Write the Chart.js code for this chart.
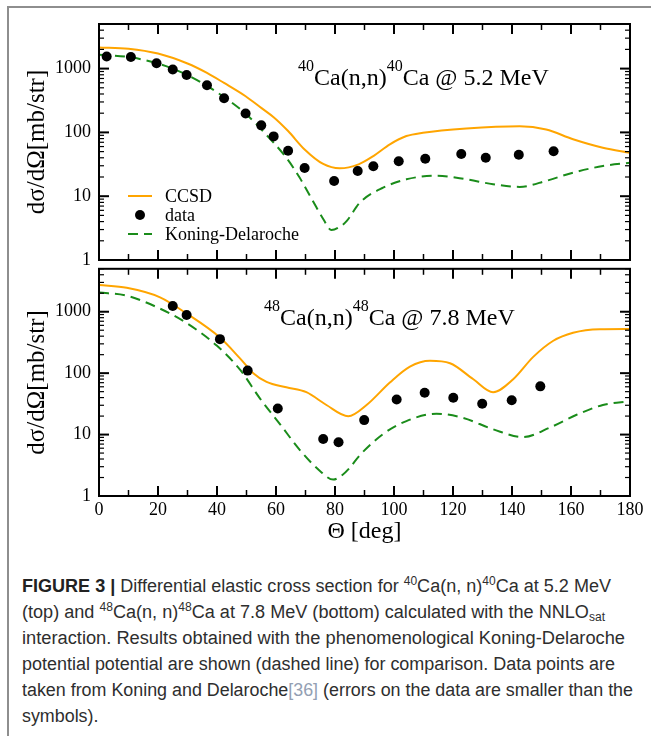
<!DOCTYPE html>
<html>
<head>
<meta charset="utf-8">
<script src="https://cdn.jsdelivr.net/npm/chart.js@4/dist/chart.umd.min.js"></script>
<style>
  html, body { margin:0; padding:0; background:#fff; }
  #wrap { position:relative; width:651px; height:736px; overflow:hidden; background:#fff; }
  #box { position:absolute; left:7px; top:6px; width:700px; height:760px; border-left:2px solid #8e8e8e; border-top:2px solid #8e8e8e; }
  canvas { position:absolute; left:0; }
  #cTop { top:0; }
  #cBot { top:250px; }
  .ann { position:absolute; font-family:"Liberation Serif", serif; font-size:24px; line-height:24px; white-space:nowrap; color:#000; }
  .ann sup { font-size:16px; vertical-align:baseline; position:relative; top:-14px; line-height:0; }
  #cap { position:absolute; left:22px; top:573px; font-family:"Liberation Sans", Arial, sans-serif; font-size:18px; color:#2e2e2e; }
  #cap .l { width:max-content; height:26px; line-height:26px; white-space:nowrap; transform-origin:0 50%; }
  #cap sup { font-size:12px; vertical-align:baseline; position:relative; top:-7px; line-height:0; }
  #cap sub { font-size:12px; vertical-align:baseline; position:relative; top:3px; line-height:0; }
  #cap b { font-weight:bold; color:#222; }
  #cap .ref { color:#93a0b3; }
</style>
</head>
<body>
<div id="wrap">
  <div id="box"></div>
  <canvas id="cBot" width="651" height="300"></canvas>
  <canvas id="cTop" width="651" height="285"></canvas>
  <div class="ann" style="left:298px;top:65px;"><sup>40</sup>Ca(n,n)<sup>40</sup>Ca @ 5.2 MeV</div>
  <div class="ann" style="left:264px;top:305px;"><sup>48</sup>Ca(n,n)<sup>48</sup>Ca @ 7.8 MeV</div>
  <div id="cap">
    <div class="l"><b>FIGURE 3 |</b> Differential elastic cross section for <sup>40</sup>Ca(n, n)<sup>40</sup>Ca at 5.2 MeV</div>
    <div class="l">(top) and <sup>48</sup>Ca(n, n)<sup>48</sup>Ca at 7.8 MeV (bottom) calculated with the NNLO<sub>sat</sub></div>
    <div class="l">interaction. Results obtained with the phenomenological Koning-Delaroche</div>
    <div class="l">potential potential are shown (dashed line) for comparison. Data points are</div>
    <div class="l">taken from Koning and Delaroche<span class="ref">[36]</span> (errors on the data are smaller than the</div>
    <div class="l">symbols).</div>
  </div>
</div>
<script>
// ---------------- data ----------------
// Top panel: 40Ca(n,n)40Ca @ 5.2 MeV
const data40Angles = [2.6, 10.8, 19.5, 25, 29.7, 36.6, 42.4, 49.7, 55, 59.2, 64.1, 69.7, 79.7, 87.7, 93, 101.6, 110.6, 122.8, 131.1, 142.3, 154.1];
const data40Values = [1550, 1515, 1210, 965, 795, 548, 343, 198, 129, 86.6, 51.6, 27.7, 17.3, 24.9, 29.4, 35.2, 38.7, 45.8, 40.1, 44.7, 50.5];

const ccsd40Angles = [0, 10, 20, 30, 36.6, 42.4, 49.7, 55, 59.2, 64.1, 69.7, 76, 81.6, 88, 93, 98.6, 104.2, 109.8, 124.5, 142.6, 151.6, 160.7, 170.8, 180];
const ccsd40Values = [2150, 2050, 1720, 1200, 855, 595, 369, 242, 173, 105, 54, 32, 27.4, 31.6, 42.6, 65, 87.6, 98.6, 115, 125, 111, 78, 57.5, 48];

const kd40Angles = [0, 10, 20, 30, 42, 50, 56.6, 63.5, 68, 72.5, 76, 78.8, 82, 84, 88.4, 96.3, 104.2, 114.4, 124.5, 133.6, 142.6, 151.6, 160.7, 170.8, 180];
const kd40Values = [1655, 1520, 1200, 790, 369, 191, 93, 40, 19.6, 8.4, 4.4, 2.94, 3.4, 4.1, 7.9, 13.6, 18.4, 21, 18.4, 15.4, 14, 17.4, 23.4, 29.7, 33.5];

// Bottom panel: 48Ca(n,n)48Ca @ 7.8 MeV
const data48Angles = [25, 29.7, 41, 50.4, 60.6, 76, 81.2, 89.9, 100.9, 110.4, 120.1, 129.9, 139.9, 149.6];
const data48Values = [1238, 884, 358, 110, 26.5, 8.5, 7.5, 17.2, 37.2, 47.9, 39.9, 31.8, 36.2, 61];

const ccsd48Angles = [0, 9.4, 20.7, 29.7, 41, 47.8, 52.3, 56.8, 63.5, 70.3, 77.1, 84.5, 90.7, 98.6, 105.4, 112.2, 119, 126.9, 133.6, 140.4, 147.2, 154, 160.7, 169.8, 180];
const ccsd48Values = [2712, 2450, 1714, 935, 380, 174, 100, 72, 58.8, 49, 30.3, 19.9, 30.3, 70.5, 128, 159, 145, 79.5, 49, 79.5, 184, 337, 455, 520, 525];

const kd48Angles = [0, 9.4, 20.7, 29.7, 39.9, 47.8, 54.6, 61.4, 68.1, 74.9, 79.4, 82.5, 85, 88.4, 96.3, 104.2, 114.4, 123.4, 133.6, 143.7, 152.8, 161.9, 170.8, 180];
const kd48Values = [2052, 1823, 1122, 653, 281, 114, 38.5, 14.7, 5.6, 2.56, 1.85, 2.2, 2.88, 4.6, 10.2, 16.6, 21.9, 18.7, 12.2, 9.1, 13, 21, 30.3, 35];

// Axes
const xTickValues = [0, 20, 40, 60, 80, 100, 120, 140, 160, 180];
const xMinorValues = [10, 30, 50, 70, 90, 110, 130, 150, 170];
const yTickValues = [1, 10, 100, 1000];
const yTickLabels = ['1', '10', '100', '1000'];
const yRange = [1, 5000];
const xRange = [0, 180];

const seriesNames = ['CCSD', 'data', 'Koning-Delaroche'];
const yTitle = 'd\u03c3/d\u03a9[mb/str]';
const xTitle = '\u0398 [deg]';

// ---------------- chart construction ----------------
const ORANGE = '#ffa500';
const GREEN = '#1a8c1a';
const zip = (xs, ys) => xs.map((x, i) => ({x: x, y: ys[i]}));

function makeDatasets(ccA, ccV, dA, dV, kA, kV) {
  return [
    { label: seriesNames[0], data: zip(ccA, ccV), borderColor: ORANGE, borderWidth: 2, pointRadius: 0,
      cubicInterpolationMode: 'monotone', fill: false, order: 3 },
    { label: seriesNames[1], data: zip(dA, dV), showLine: false, pointRadius: 5, pointHoverRadius: 5,
      pointBackgroundColor: '#000', pointBorderWidth: 0, borderColor: '#000', backgroundColor: '#000', order: 1 },
    { label: seriesNames[2], data: zip(kA, kV), borderColor: GREEN, borderWidth: 2, borderDash: [10, 6], pointRadius: 0,
      cubicInterpolationMode: 'monotone', fill: false, order: 2 }
  ];
}

const frameTicks = {
  id: 'frameTicks',
  afterDatasetsDraw(chart) {
    const {ctx, chartArea: a, scales: {x, y}} = chart;
    ctx.save();
    ctx.strokeStyle = '#000';
    ctx.lineCap = 'butt';
    const vline = (px, y0, y1, w) => { ctx.lineWidth = w; ctx.beginPath(); ctx.moveTo(px, y0); ctx.lineTo(px, y1); ctx.stroke(); };
    const hline = (py, x0, x1, w) => { ctx.lineWidth = w; ctx.beginPath(); ctx.moveTo(x0, py); ctx.lineTo(x1, py); ctx.stroke(); };
    xTickValues.forEach(v => { const p = x.getPixelForValue(v); vline(p, a.top, a.top + 10, 2); vline(p, a.bottom, a.bottom - 10, 2); });
    xMinorValues.forEach(v => { const p = x.getPixelForValue(v); vline(p, a.top, a.top + 6, 1.5); vline(p, a.bottom, a.bottom - 6, 1.5); });
    yTickValues.forEach(v => { const p = y.getPixelForValue(v); hline(p, a.left, a.left + 10, 2); hline(p, a.right, a.right - 10, 2); });
    yTickValues.forEach(d => {
      for (let m = 2; m <= 9; m++) {
        const v = d * m;
        if (v > yRange[1]) break;
        const p = y.getPixelForValue(v);
        hline(p, a.left, a.left + 5, 1.2); hline(p, a.right, a.right - 5, 1.2);
      }
    });
    ctx.lineWidth = 2;
    ctx.strokeRect(a.left, a.top, a.right - a.left, a.bottom - a.top);
    ctx.restore();
  }
};

const innerLegend = {
  id: 'innerLegend',
  afterDraw(chart, args, opts) {
    if (!opts || !opts.show) return;
    const {ctx} = chart;
    const ds = chart.data.datasets;
    const x0 = 128, x1 = 152, tx = 165, rows = [196, 215, 234];
    ctx.save();
    ctx.font = '18px "Liberation Serif"';
    ctx.fillStyle = '#000';
    ctx.textBaseline = 'middle';
    ds.forEach((d, i) => {
      const yy = rows[i];
      if (d.showLine === false) {
        ctx.beginPath(); ctx.arc((x0 + x1) / 2, yy, 5, 0, Math.PI * 2); ctx.fillStyle = '#000'; ctx.fill();
      } else {
        ctx.strokeStyle = d.borderColor; ctx.lineWidth = 2; ctx.setLineDash(d.borderDash || []);
        ctx.beginPath(); ctx.moveTo(x0, yy); ctx.lineTo(x1, yy); ctx.stroke(); ctx.setLineDash([]);
      }
      ctx.fillStyle = '#000';
      ctx.fillText(d.label, tx, yy + 1);
    });
    ctx.restore();
  }
};

Chart.defaults.font.family = '"Liberation Serif", serif';
Chart.defaults.color = '#000';

function makeChart(canvasId, datasets, isBottom) {
  return new Chart(document.getElementById(canvasId), {
    type: 'line',
    data: { datasets: datasets },
    plugins: [frameTicks, innerLegend],
    options: {
      responsive: false,
      animation: false,
      devicePixelRatio: 1,
      layout: { padding: { top: isBottom ? 10 : 24, right: 21, left: 0, bottom: 0 } },
      plugins: { legend: { display: false }, tooltip: { enabled: false }, innerLegend: { show: !isBottom } },
      scales: {
        x: {
          type: 'linear', min: xRange[0], max: xRange[1],
          grid: { display: false, drawTicks: false }, border: { display: false },
          afterBuildTicks: s => { s.ticks = xTickValues.map(v => ({value: v})); },
          afterFit: s => { s.height = isBottom ? 54 : 25; },
          ticks: { display: isBottom, autoSkip: false, maxRotation: 0, padding: 3, font: { size: 18 }, color: '#000',
                   callback: v => String(v) },
          title: { display: isBottom, text: xTitle, font: { size: 24 }, color: '#000', padding: { top: 0, bottom: 4 } }
        },
        y: {
          type: 'logarithmic', min: yRange[0], max: yRange[1],
          grid: { display: false, drawTicks: false }, border: { display: false },
          afterBuildTicks: s => { s.ticks = yTickValues.map(v => ({value: v})); },
          afterFit: s => { s.width = 99; },
          ticks: { autoSkip: false, padding: 8, font: { size: 18 }, color: '#000',
                   callback: v => { const i = yTickValues.indexOf(v); return i >= 0 ? yTickLabels[i] : ''; } },
          title: { display: true, text: yTitle, font: { size: 25 }, color: '#000', padding: { top: 22, bottom: 0 } }
        }
      }
    }
  });
}

makeChart('cTop', makeDatasets(ccsd40Angles, ccsd40Values, data40Angles, data40Values, kd40Angles, kd40Values), false);
makeChart('cBot', makeDatasets(ccsd48Angles, ccsd48Values, data48Angles, data48Values, kd48Angles, kd48Values), true);

// fit caption lines to the right edges seen in the original figure (left edge at 22px)
const capRightEdges = [611, 605, 625, 615, 633, 0];
let lastScale = 0.95;
document.querySelectorAll('#cap .l').forEach((el, i) => {
  const w = el.getBoundingClientRect().width;
  const t = capRightEdges[i];
  const s = t > 0 ? (t - 22) / w : lastScale;
  lastScale = s;
  el.style.transform = 'scaleX(' + s.toFixed(4) + ')';
});
</script>
</body>
</html>
